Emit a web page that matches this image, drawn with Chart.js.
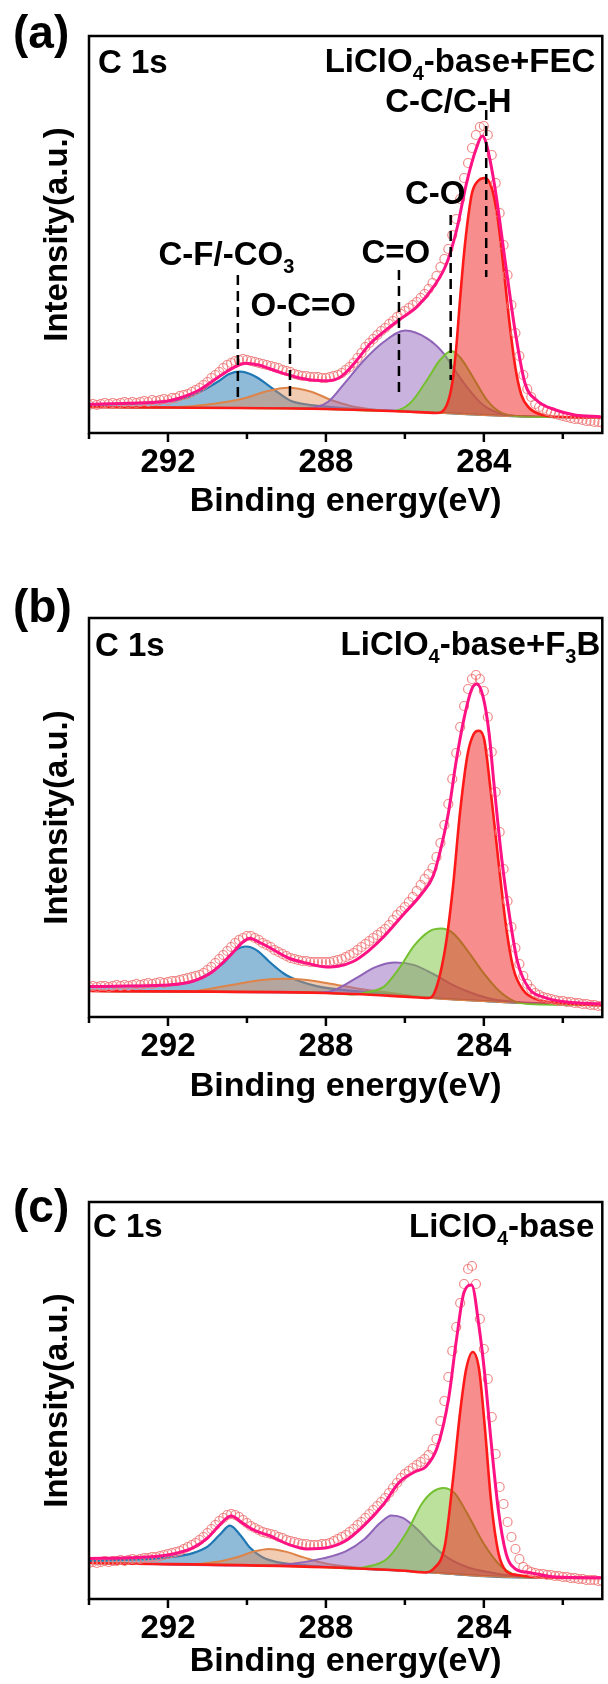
<!DOCTYPE html>
<html><head><meta charset="utf-8">
<script src="https://cdn.jsdelivr.net/npm/chart.js@4.4.1/dist/chart.umd.min.js"></script>
<style>
html,body{margin:0;padding:0;background:#fff;}
#wrap{position:relative;width:608px;height:1684px;overflow:hidden;background:#fff;}
canvas{position:absolute;left:0;}
</style></head><body>
<div id="wrap">
<canvas id="ca" width="608" height="560" style="top:0px;width:608px;height:560px"></canvas>
<canvas id="cb" width="608" height="580" style="top:560px;width:608px;height:580px"></canvas>
<canvas id="cc" width="608" height="544" style="top:1140px;width:608px;height:544px"></canvas>
</div>
<script>
// ---------- axis / grid ----------
const energyGrid = Array.from({length:131}, (_, i) => +(294 - i * 0.1).toFixed(1));
const xTicks = [294, 292, 290, 288, 286, 284, 282];
const xLabeled = [292, 288, 284];

// ---------- panel (a) LiClO4-base+FEC ----------
const rawA = [28,29,28,29,30,29,30,29,30,31, 30,31,30,31,32,31,33,32,33,34, 33,35,35,37,38,39,41,43,45,48,
  51,55,58,61,65,68,70,72,73,74, 73,72,71,70,69,68,67,66,65,63, 62,61,59,58,57,57,56,56,56,55,
  55,56,57,58,60,63,66,70,75,80, 86,90,94,98,102,105,109,112,116,119, 122,125,128,131,135,139,144,150,157,166,
  174,184,198,214,234,255,270,285,298,306, 307,298,278,250,220,188,158,128,100,77, 58,44,36,29,26,24,22,21,19,18,
  17,16,15,14,14,13,12,12,11,11, 10];
const bgA = [[294,26],[292,25.5],[290,25],[288,24],[287,23],[286,21.5],[285,20],[284,18],[283,16.5],[282,16],[281,15.5]];
const blueA = [[294,28],[293,29.5],[292,32],[291.7,33.5],[291.2,41],[290.7,52.3],[290.45,59],[290.17,61.3],[289.92,59],[289.71,54.7],[289.3,43],[288.88,32],[288.47,28.5],[288,26.5],[287,23.5],[286,21.8],[285,20],[284,18],[283,16.5],[281,15.5]];
const orangeA = [[294,26],[292,25.8],[291.5,26.5],[290.9,29],[290.45,31.5],[290.04,35],[289.54,41.3],[288.96,45.3],[288.37,41.3],[287.87,33],[287.37,27],[286.8,23.5],[286,21.5],[285,20],[284,18],[283,16.5],[281,15.5]];
const purpleA = [[294,26],[290,25],[288.5,25],[287.95,31],[287.53,49.7],[287.03,73],[286.53,91.3],[285.99,102.5],[285.44,94.7],[285.02,79.7],[284.79,66],[284.41,45],[284.02,28],[283.63,20],[283.2,17],[282,16],[281,15.5]];
const greenA = [[294,26],[288,24],[286.3,22],[285.86,30],[285.44,53],[285.11,73],[284.82,82],[284.61,76],[284.4,64],[284.19,50],[283.92,33],[283.63,22],[283.2,17],[282,16],[281,15.5]];
const redA = [[294,26],[288,24],[286,21.5],[285.2,20],[284.95,27],[284.8,50],[284.7,85],[284.6,135],[284.5,180],[284.4,215],[284.3,240],[284.15,252],[283.97,255],[283.8,245],[283.65,215],[283.5,165],[283.35,110],[283.2,65],[283.05,38],[282.85,25],[282.5,18],[282,16],[281,15.5]];
const fitA = [[294,28.7],[293,29.7],[292,32],[291.72,34.7],[291.21,43],[290.71,56.3],[290.29,66.3],[290.04,69.7],[289.71,68],[289.21,61.3],[288.79,56.3],[288.37,53],[287.95,52.3],[287.62,56.3],[287.28,69.7],[286.87,89.7],[286.53,101.3],[286.15,113],[285.69,126.3],[285.27,146.3],[284.94,169.7],[284.69,203],[284.44,249.7],[284.19,284.7],[284.04,297],[283.95,291],[283.73,248],[283.44,166],[283.2,100],[282.96,50],[282.67,33],[282.18,23],[281.7,18],[281.04,16.3]];
// peak markers: [energy, top, bottom]
const marksA = [[290.23,158,33],[288.91,111,35],[286.15,163,40],[284.84,218,53],[283.94,323,156]];
// peak names: [text parts, energy (left edge), baseline value]
const namesA = [
  [[['C-F/-CO',0],['3',1]], 292.24, 168],
  [[['O-C=O',0]], 289.91, 117],
  [[['C=O',0]], 287.10, 170],
  [[['C-O',0]], 286.00, 229],
  [[['C-C/C-H',0]], 286.50, 321]
];

// ---------- panel (b) LiClO4-base+F3B ----------
const rawB = [30,31,30,31,31,30,31,32,31,32, 31,32,33,32,33,34,33,34,35,34, 35,36,36,37,38,39,40,41,42,44,
  47,50,54,58,62,66,70,74,77,79, 81,81,79,77,74,72,70,67,65,63, 61,59,58,57,56,56,55,55,55,55,
  55,55,56,57,58,60,62,64,67,70, 73,76,79,82,85,88,92,97,102,106, 110,115,120,126,132,138,143,149,160,174,
  192,213,238,264,290,311,328,338,342,338, 326,300,265,225,185,148,116,90,69,53, 41,33,28,24,22,20,19,18,17,16,
  16,15,15,14,14,13,13,12,12,11, 11];
const bgB = [[294,26],[292,25.5],[290,25],[288,24],[287,22.5],[286,20.4],[285,18],[284,16],[283,14],[282,12.5],[281,11.8]];
const blueB = [[294,30],[293,31],[292,32],[291.37,35.8],[290.98,43],[290.6,53.7],[290.31,66.2],[290.02,70.5],[289.73,66.2],[289.44,55.5],[289.05,43],[288.66,35.8],[288.18,30.4],[287.5,26.8],[286.53,23.5],[285.5,19.5],[284,16],[283,14],[281,11.8]];
const orangeB = [[294,26],[292,25.5],[291.4,25.5],[290.89,28.6],[290.21,33.3],[289.63,36.9],[289.05,38.3],[288.47,36.9],[287.89,33.3],[287.21,28.6],[286.53,25],[285.8,21],[285,18],[284,16],[283,14],[281,11.8]];
const purpleB = [[294,26],[289,24.5],[287.98,25],[287.69,28.6],[287.21,39.4],[286.73,50.1],[286.24,54.4],[285.76,51.9],[285.28,43],[284.79,32.2],[284.31,24],[283.8,18],[283,14.5],[281,11.8]];
const greenB = [[294,26],[288,24],[287.3,22.6],[286.92,25],[286.53,30.4],[286.15,48.3],[285.76,71.6],[285.37,85.9],[285.08,88.4],[284.79,84.1],[284.41,66.2],[284.02,44.7],[283.63,26.8],[283.25,16.1],[282.86,13],[281,11.8]];
const redB = [[294,26],[288,24],[286,20.4],[285.4,19],[285.28,22],[284.99,66],[284.79,127],[284.6,205.8],[284.41,263],[284.26,282.7],[284.14,286.3],[284.0,279.2],[283.83,227.3],[283.63,155.7],[283.44,91.3],[283.25,48.3],[283.0,26.8],[282.67,17.9],[282.18,14.3],[281,11.8]];
const fitB = [[294,30.4],[293,31],[292,32],[291.37,35.8],[290.89,44.7],[290.4,62.6],[290.1,75],[289.92,78.7],[289.7,75],[289.44,69.8],[288.95,59],[288.47,53.7],[287.98,50.1],[287.69,50.8],[287.31,55.5],[286.92,66.2],[286.53,80.5],[286.05,102],[285.57,123.5],[285.28,141.4],[285.08,170],[284.89,205.8],[284.7,255.9],[284.5,298.9],[284.31,327.5],[284.18,332.9],[284.02,320.3],[283.87,284.5],[283.73,227.3],[283.54,155.7],[283.34,98.4],[283.15,55.5],[282.86,28.6],[282.47,19.7],[281.9,15],[281.04,13.2]];

// ---------- panel (c) LiClO4-base ----------
const rawC = [36,37,36,37,38,37,38,38,39,38, 39,40,39,40,41,41,42,42,43,44, 45,46,47,48,50,52,54,56,59,62,
  66,70,74,78,81,84,85,84,82,79, 76,73,71,69,67,66,65,64,62,61, 59,58,57,56,55,55,54,54,54,55,
  55,56,58,60,62,64,67,70,74,77, 81,85,89,93,97,101,106,111,116,121, 125,128,131,134,137,140,144,150,160,178,
  198,222,248,272,296,315,330,333,315,280, 250,220,182,145,112,95,77,62,50,40, 32,29,27,26,25,25,24,24,23,23,
  22,22,21,21,20,20,19,19,19,18, 18];
const bgC = [[294,36],[292,35],[290,33.5],[288,31.8],[287,30],[286,28.2],[285,25.5],[284,22.9],[283,21.5],[282,21.2],[281,21]];
const blueC = [[294,38.1],[292,41.6],[291.37,45.9],[290.98,52.9],[290.69,64.2],[290.43,73.4],[290.16,63.5],[289.92,51.2],[289.63,42.3],[289.24,37],[288.47,33.5],[287.5,31],[286,28.2],[285,25.5],[284,22.9],[283,21.5],[281,21]];
const orangeC = [[294,36],[291.5,34.8],[290.79,37],[290.21,42.3],[289.82,47.6],[289.44,50.1],[289.05,47.6],[288.56,41.6],[287.98,35.3],[287.31,31.8],[286.5,29.2],[285.5,27],[284,22.9],[283,21.5],[281,21]];
const purpleC = [[294,36],[290,33.5],[288.85,35.3],[288.08,40.6],[287.5,47.6],[287.02,60],[286.63,75.9],[286.34,83.6],[286.05,81.2],[285.66,68.8],[285.28,52.9],[284.89,40.6],[284.41,31.8],[283.83,26.5],[283,22],[281,21]];
const greenC = [[294,36],[288,31.8],[287.4,30.6],[287.02,31.8],[286.44,40.6],[285.95,67],[285.57,95.3],[285.28,107.6],[285.03,111.1],[284.74,105.9],[284.41,84.7],[284.02,56.5],[283.63,35.3],[283.25,24.7],[282.86,21.9],[281,21]];
const redC = [[294,36],[288,31.8],[286,28.2],[285.5,26.5],[285.28,30],[284.99,52.9],[284.79,116.4],[284.6,187],[284.45,229.4],[284.28,247],[284.12,229.4],[283.97,169.4],[283.82,98.8],[283.63,45.9],[283.44,28.2],[283.15,24],[282.5,21.5],[281,21]];
const fitC = [[294,40.6],[293,41.3],[292,44.1],[291.37,51.2],[290.98,61.7],[290.69,74.1],[290.4,82.9],[290.11,75.9],[289.82,68.8],[289.44,63.5],[288.95,54.7],[288.47,50.1],[287.98,51.2],[287.5,58.2],[287.02,74.1],[286.53,95.3],[286.15,116.4],[285.76,127],[285.47,132.3],[285.18,151.7],[284.89,201.1],[284.7,257.6],[284.5,307],[284.31,314],[284.12,271.7],[283.97,222],[283.82,158.8],[283.63,88.2],[283.44,45.9],[283.2,30],[282.86,26.5],[282.18,21.9],[281.04,21.2]];

// ---------- drawing ----------
const FONT = '"Liberation Sans", Arial, Helvetica, sans-serif';
const pairs = arr => arr.map(p => ({x: p[0], y: p[1]}));

function drawRich(ctx, parts, x, y, align, size) {
  const main = 'bold ' + size + 'px ' + FONT, sub = 'bold ' + Math.round(size * 0.6) + 'px ' + FONT;
  let w = 0;
  parts.forEach(([t, s]) => { ctx.font = s ? sub : main; w += ctx.measureText(t).width; });
  let cx = align === 'right' ? x - w : x;
  ctx.textAlign = 'left'; ctx.textBaseline = 'alphabetic';
  parts.forEach(([t, s]) => { ctx.font = s ? sub : main; ctx.fillText(t, cx, s ? y + 8 : y); cx += ctx.measureText(t).width; });
}

function makeChart(id, P) {
  const line = (arr, color, fillColor, bw) => ({
    data: pairs(arr), borderColor: color, borderWidth: bw, backgroundColor: fillColor,
    fill: 7, pointRadius: 0, cubicInterpolationMode: 'monotone'
  });
  const datasets = [
    {data: pairs(P.fit), borderColor: '#ff1284', borderWidth: 3, pointRadius: 0, fill: false, cubicInterpolationMode: 'monotone'},
    {data: energyGrid.map((e, i) => ({x: e, y: P.raw[i]})), showLine: false, pointRadius: 4.5, pointStyle: 'circle',
     pointBorderColor: 'rgba(240,122,122,0.9)', pointBackgroundColor: 'rgba(0,0,0,0)', pointBorderWidth: 1.2, borderColor: 'rgba(0,0,0,0)'},
    line(P.red, '#ff1a1a', 'rgba(242,36,36,0.52)', 2.6),
    line(P.green, '#74c030', 'rgba(122,196,60,0.5)', 2),
    line(P.purple, '#8e63b8', 'rgba(148,103,189,0.5)', 2),
    line(P.orange, '#de8448', 'rgba(226,140,86,0.45)', 2),
    line(P.blue, '#1f77b4', 'rgba(31,119,180,0.5)', 2.2),
    {data: pairs(P.bg), borderColor: 'rgba(140,110,150,0.6)', borderWidth: 1, pointRadius: 0, fill: false, cubicInterpolationMode: 'monotone'}
  ];
  const panelPlugin = {
    id: 'panel' + id,
    afterDraw(chart) {
      const {ctx, chartArea: a, scales: {x, y}} = chart;
      ctx.save();
      // dashed peak markers
      ctx.strokeStyle = '#000'; ctx.lineWidth = 2.5; ctx.setLineDash([10, 6]);
      (P.marks || []).forEach(m => {
        const px = x.getPixelForValue(m[0]);
        ctx.beginPath(); ctx.moveTo(px, y.getPixelForValue(m[1])); ctx.lineTo(px, y.getPixelForValue(m[2])); ctx.stroke();
      });
      ctx.setLineDash([]);
      ctx.fillStyle = '#000';
      (P.names || []).forEach(n => drawRich(ctx, n[0], x.getPixelForValue(n[1]), y.getPixelForValue(n[2]), 'left', 33));
      // frame
      ctx.lineWidth = 2.5; ctx.strokeStyle = '#000';
      ctx.strokeRect(a.left, a.top, a.right - a.left, a.bottom - a.top);
      // ticks
      xTicks.forEach(v => {
        const px = x.getPixelForValue(v);
        const len = xLabeled.includes(v) ? 9 : 6;
        ctx.beginPath(); ctx.moveTo(px, a.bottom); ctx.lineTo(px, a.bottom + len); ctx.stroke();
      });
      // corner texts
      drawRich(ctx, [['C 1s', 0]], a.left + P.c1s[0], a.top + P.c1s[1], 'left', 33);
      drawRich(ctx, P.sample, a.right - P.samplePos[0], a.top + P.samplePos[1], 'right', 33);
      drawRich(ctx, [[P.letter, 0]], 13, P.letterY, 'left', 46);
      ctx.restore();
    }
  };
  return new Chart(document.getElementById(id), {
    type: 'line',
    data: {datasets},
    options: {
      responsive: false, animation: false, devicePixelRatio: 1,
      layout: {padding: {top: P.padTop, left: 0, right: 1, bottom: 0}},
      plugins: {legend: {display: false}, tooltip: {enabled: false}},
      scales: {
        x: {
          type: 'linear', min: 281, max: 294, reverse: true,
          afterBuildTicks: s => { s.ticks = xTicks.map(v => ({value: v})); },
          afterFit: s => { s.height = P.xH; },
          grid: {display: false, drawTicks: false}, border: {display: false},
          ticks: {autoSkip: false, maxRotation: 0, minRotation: 0, padding: 10, color: '#000',
            font: {family: FONT, size: 33, weight: 'bold'},
            callback: v => xLabeled.includes(v) ? String(v) : ''},
          title: {display: true, text: 'Binding energy(eV)', color: '#000',
            font: {family: FONT, size: 34, weight: 'bold'}, padding: {top: 0, bottom: P.titlePad}}
        },
        y: {
          min: 0, max: P.yMax,
          afterFit: s => { s.width = 89; },
          grid: {display: false, drawTicks: false}, border: {display: false},
          ticks: {display: false},
          title: {display: true, text: 'Intensity(a.u.)', color: '#000',
            font: {family: FONT, size: 33, weight: 'bold'}, padding: {top: 37.7, bottom: 0}}
        }
      }
    },
    plugins: [panelPlugin]
  });
}

makeChart('ca', {raw: rawA, bg: bgA, blue: blueA, orange: orangeA, purple: purpleA, green: greenA, red: redA, fit: fitA,
  marks: marksA, names: namesA, padTop: 36, xH: 127, yMax: 397, titlePad: 37.6,
  c1s: [9, 37], sample: [['LiClO', 0], ['4', 1], ['-base+FEC', 0]], samplePos: [7, 36], letter: '(a)', letterY: 48});
makeChart('cb', {raw: rawB, bg: bgB, blue: blueB, orange: orangeB, purple: purpleB, green: greenB, red: redB, fit: fitB,
  padTop: 58, xH: 123, yMax: 399, titlePad: 32.6,
  c1s: [6, 38], sample: [['LiClO', 0], ['4', 1], ['-base+F', 0], ['3', 1], ['B', 0]], samplePos: [2, 37], letter: '(b)', letterY: 62});
makeChart('cc', {raw: rawC, bg: bgC, blue: blueC, orange: orangeC, purple: purpleC, green: greenC, red: redC, fit: fitC,
  padTop: 62, xH: 85, yMax: 397, titlePad: 1.6,
  c1s: [4, 35], sample: [['LiClO', 0], ['4', 1], ['-base', 0]], samplePos: [8, 35], letter: '(c)', letterY: 82});
</script>
</body></html>
